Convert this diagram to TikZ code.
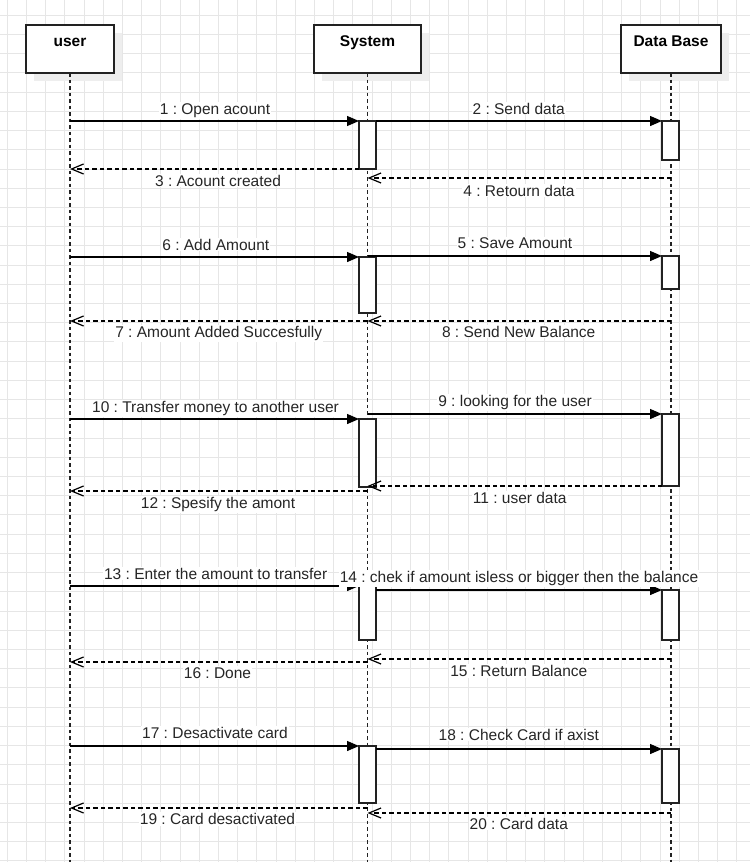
\documentclass[tikz,border=0pt]{standalone}
\usepackage{fontspec}
\setmainfont{Liberation Sans}
\usetikzlibrary{arrows.meta}
\frenchspacing
\definecolor{gridc}{HTML}{E6E6E6}
\definecolor{shadowc}{HTML}{EEEEEE}
\definecolor{strokec}{HTML}{222222}
\definecolor{textc}{HTML}{262626}
\begin{document}
\begin{tikzpicture}[x=1pt,y=-1pt,
  gridline/.style={draw=gridc, line width=0.9pt},
  hdr/.style={draw=strokec, line width=1.5pt, fill=white, minimum height=48pt, inner sep=0pt, outer sep=0pt},
  hdrshadow/.style={fill=shadowc, draw=none},
  hdrtext/.style={anchor=base, font=\fontsize{15.5}{18}\selectfont\bfseries, text=black, inner sep=0pt},
  life/.style={draw=strokec, line width=1.3pt, dash pattern=on 3.5pt off 3pt},
  act/.style={draw=strokec, fill=white, line width=1.3pt, minimum width=17pt, inner sep=0pt, outer sep=0pt},
  msg/.style={draw=black, line width=1.3pt, -{Triangle[length=12pt,width=10pt]}},
  ret/.style={draw=black, line width=1.2pt, dash pattern=on 4.5pt off 3pt, -{Straight Barb[length=12pt,width=10pt,line width=1.2pt]}},
  lbl/.style={anchor=base, fill=white, inner sep=1pt, font=\fontsize{15.5}{18}\selectfont, text=textc}
]
% background and grid
\fill[white] (0,0) rectangle (750,862);
\useasboundingbox (0,0) rectangle (750,862);
\foreach \i in {0,...,38} \draw[gridline] ({7.3+19.2*\i},0) -- ({7.3+19.2*\i},862);
\foreach \j in {0,...,44} \draw[gridline] (0,{15.2+19.22*\j}) -- (750,{15.2+19.22*\j});

% header shadows
\fill[hdrshadow] (34,33) rectangle (122,81);
\fill[hdrshadow] (322,33) rectangle (429,81);
\fill[hdrshadow] (629,33) rectangle (729,81);

% header boxes
\node[hdr, minimum width=88pt] (user) at (70,49) {};
\node[hdr, minimum width=107pt] (sys) at (367.5,49) {};
\node[hdr, minimum width=100pt] (db) at (671,49) {};
\node[hdrtext] (usert) at (70,46.5) {user};
\node[hdrtext] (syst) at (367.5,46.5) {System};
\node[hdrtext] (dbt) at (671,46.5) {Data Base};

% lifelines
\coordinate (bot) at (0,862);
\draw[life] (user.south) -- (user.south |- bot);
\draw[life] (sys.south) -- (sys.south |- bot);
\draw[life] (db.south) -- (db.south |- bot);

% activations on System
\node[act, minimum height=48pt] (sa1) at (367.5,145) {};
\node[act, minimum height=56pt] (sa2) at (367.5,285) {};
\node[act, minimum height=68pt] (sa3) at (367.5,453) {};
\node[act, minimum height=54pt] (sa4) at (367.5,613) {};
\node[act, minimum height=57pt] (sa5) at (367.5,774.5) {};
% activations on Data Base
\node[act, minimum height=39pt] (da1) at (670.5,140.5) {};
\node[act, minimum height=33pt] (da2) at (670.5,272.5) {};
\node[act, minimum height=72pt] (da3) at (670.5,450) {};
\node[act, minimum height=50pt] (da4) at (670.5,615) {};
\node[act, minimum height=54pt] (da5) at (670.5,776) {};

% free ends of return messages on the lifelines
\coordinate (c4) at (671,178);
\coordinate (c7) at (367.5,321);
\coordinate (c8) at (671,321);
\coordinate (c12) at (367.5,491);
\coordinate (c15) at (671,659);
\coordinate (c16) at (367.5,662);
\coordinate (c19) at (367.5,808);
\coordinate (c20) at (671,813);

% messages
\draw[msg] (sa1.north west -| user) -- (sa1.north west);
\draw[msg] (sa1.north east) -- (da1.north west);
\draw[ret] (sa1.south west) -- (sa1.south west -| user);
\draw[ret] (c4) -- (c4 -| sys);

\draw[msg] (sa2.north west -| user) -- (sa2.north west);
\draw[msg] (da2.north west -| sys) -- (da2.north west);
\draw[ret] (c7) -- (c7 -| user);
\draw[ret] (c8) -- (c8 -| sys);

\draw[msg] (sa3.north west -| user) -- (sa3.north west);
\draw[msg] (da3.north west -| sys) -- (da3.north west);
\draw[ret] (da3.south west) -- (da3.south west -| sys);
\draw[ret] (c12) -- (c12 -| user);

\draw[msg] (sa4.north west -| user) -- (sa4.north west);
\draw[msg] (da4.north west -| sa4.east) -- (da4.north west);
\draw[ret] (c15) -- (c15 -| sys);
\draw[ret] (c16) -- (c16 -| user);

\draw[msg] (sa5.north west -| user) -- (sa5.north west);
\draw[msg] (da5.north west -| sa5.east) -- (da5.north west);
\draw[ret] (c19) -- (c19 -| user);
\draw[ret] (c20) -- (c20 -| sys);

% labels
\node[lbl] (l1) at (215,114.3) {1 : Open acount};
\node[lbl] (l2) at (518.7,114.3) {2 : Send data};
\node[lbl] (l3) at (218,186) {3 : Acount created};
\node[lbl] (l4) at (519,196) {4 : Retourn data};
\node[lbl] (l6) at (215.8,250) {6 : Add Amount};
\node[lbl] (l5) at (515,248.7) {5 : Save Amount};
\node[lbl] (l7) at (218.7,337.3) {7 : Amount Added Succesfully};
\node[lbl] (l8) at (518.7,337) {8 : Send New Balance};
\node[lbl] (l10) at (215.5,412.3) {10 : Transfer money to another user};
\node[lbl] (l9) at (515,406.7) {9 : looking for the user};
\node[lbl] (l12) at (218,508.3) {12 : Spesify the amont};
\node[lbl] (l11) at (519.7,503.3) {11 : user data};
\node[lbl] (l13) at (215.7,579) {13 : Enter the amount to transfer};
\node[lbl] (l14) at (519,582.3) {14 : chek if amount isless or bigger then the balance};
\node[lbl] (l16) at (217.5,678.3) {16 : Done};
\node[lbl] (l15) at (518.8,676.7) {15 : Return Balance};
\node[lbl] (l17) at (215,738.7) {17 : Desactivate card};
\node[lbl] (l18) at (518.8,740.3) {18 : Check Card if axist};
\node[lbl] (l19) at (217.5,824.7) {19 : Card desactivated};
\node[lbl] (l20) at (518.8,829.3) {20 : Card data};
\end{tikzpicture}
\end{document}
